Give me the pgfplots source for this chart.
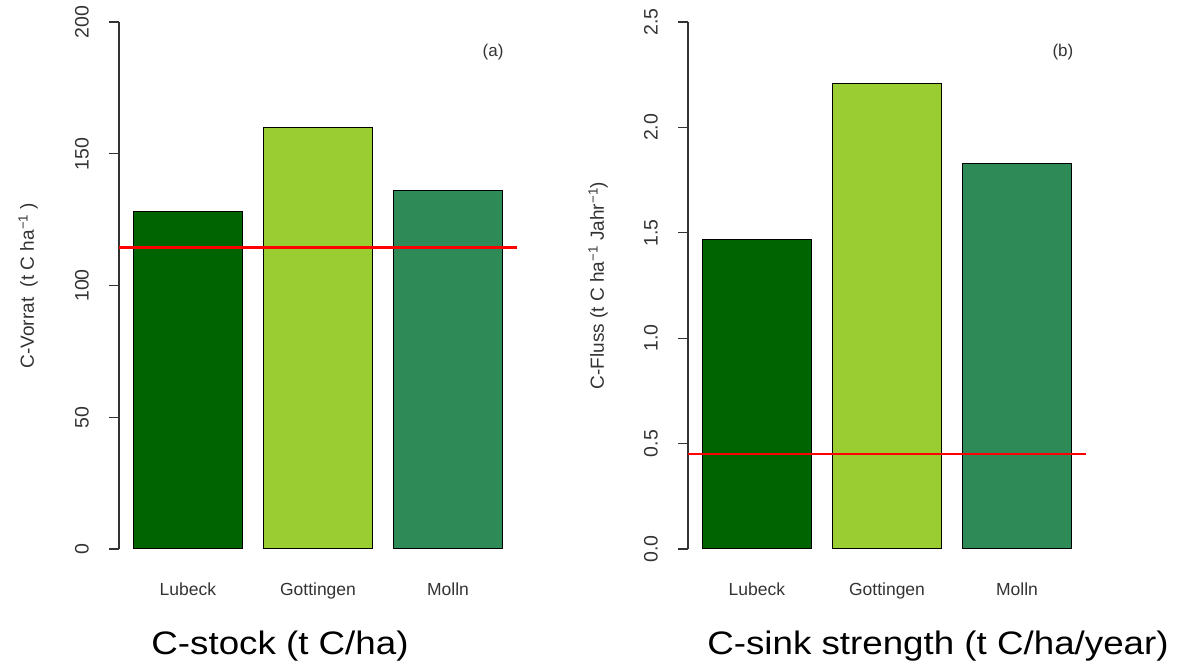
\documentclass[border=0pt]{standalone}
\usepackage{fontspec}
\setmainfont{Liberation Sans}
\newfontfamily\titlefont[FakeStretch=1.13]{Liberation Sans}
\usepackage{pgfplots}
\pgfplotsset{compat=1.18}
\definecolor{dg}{HTML}{006400}
\definecolor{yg}{HTML}{9ACD32}
\definecolor{sg}{HTML}{2E8B57}
\definecolor{axgray}{HTML}{333333}
\pgfplotsset{rpanel/.style={
 scale only axis, width=398pt, height=527pt, anchor=south west,
 xmin=0.064, xmax=3.736, ymin=0,
 axis x line=bottom, axis y line=left,
 x axis line style={draw=none}, y axis line style={-, line width=1.2pt, color=axgray},
 xtick={0.7,1.9,3.1}, xticklabels={Lubeck,Gottingen,Molln},
 x tick style={draw=none}, y tick style={line width=1.2pt, color=axgray},
 tick align=outside, major tick length=10pt,
 xticklabel style={font=\fontsize{17.5}{20}\selectfont, text=axgray, inner sep=0pt, anchor=north},
 xticklabel shift=24pt,
 yticklabel style={font=\fontsize{19.5}{22}\selectfont, text=axgray, inner sep=0pt, rotate=90, anchor=south},
 yticklabel shift=20pt,
 /pgf/number format/assume math mode=true,
 clip=false,
}}
\begin{document}
\begin{tikzpicture}
\path[use as bounding box] (0,0) rectangle (1177pt,666pt);
\begin{axis}[rpanel, at={(119pt,117pt)}, ymax=200, ytick={0,50,100,150,200}]
\addplot[ybar, bar width=1, bar shift=0pt, fill=dg, draw=black, line width=1pt] coordinates {(0.7,128)};
\addplot[ybar, bar width=1, bar shift=0pt, fill=yg, draw=black, line width=1pt] coordinates {(1.9,160)};
\addplot[ybar, bar width=1, bar shift=0pt, fill=sg, draw=black, line width=1pt] coordinates {(3.1,136)};
\addplot[red, line width=3.5pt] coordinates {(0.064,114.5) (3.736,114.5)};
\node[font=\fontsize{17}{20}\selectfont, text=axgray] at (rel axis cs:0.94,0.943) {(a)};
\node[rotate=90, font=\fontsize{19}{21}\selectfont, text=axgray] at (rel axis cs:-0.228,0.5) {C-Vorrat~ (t C ha\textsuperscript{−1} )};
\end{axis}
\begin{axis}[rpanel, at={(688pt,117pt)}, ymax=2.5, ytick={0,0.5,1,1.5,2,2.5},
 yticklabel style={/pgf/number format/.cd, fixed, fixed zerofill, precision=1}]
\addplot[ybar, bar width=1, bar shift=0pt, fill=dg, draw=black, line width=1pt] coordinates {(0.7,1.47)};
\addplot[ybar, bar width=1, bar shift=0pt, fill=yg, draw=black, line width=1pt] coordinates {(1.9,2.21)};
\addplot[ybar, bar width=1, bar shift=0pt, fill=sg, draw=black, line width=1pt] coordinates {(3.1,1.83)};
\addplot[red, line width=2pt] coordinates {(0.064,0.45) (3.736,0.45)};
\node[font=\fontsize{17}{20}\selectfont, text=axgray] at (rel axis cs:0.942,0.943) {(b)};
\node[rotate=90, font=\fontsize{19}{21}\selectfont, text=axgray] at (rel axis cs:-0.226,0.5) {C-Fluss (t C ha\textsuperscript{−1} Jahr\textsuperscript{−1})};
\end{axis}
\node[anchor=base, font=\titlefont\fontsize{32.5}{36}\selectfont] at (280pt,11pt) {C-stock (t C/ha)};
\node[anchor=base, font=\titlefont\fontsize{32.5}{36}\selectfont] at (938pt,11pt) {C-sink strength (t C/ha/year)};
\end{tikzpicture}
\end{document}
